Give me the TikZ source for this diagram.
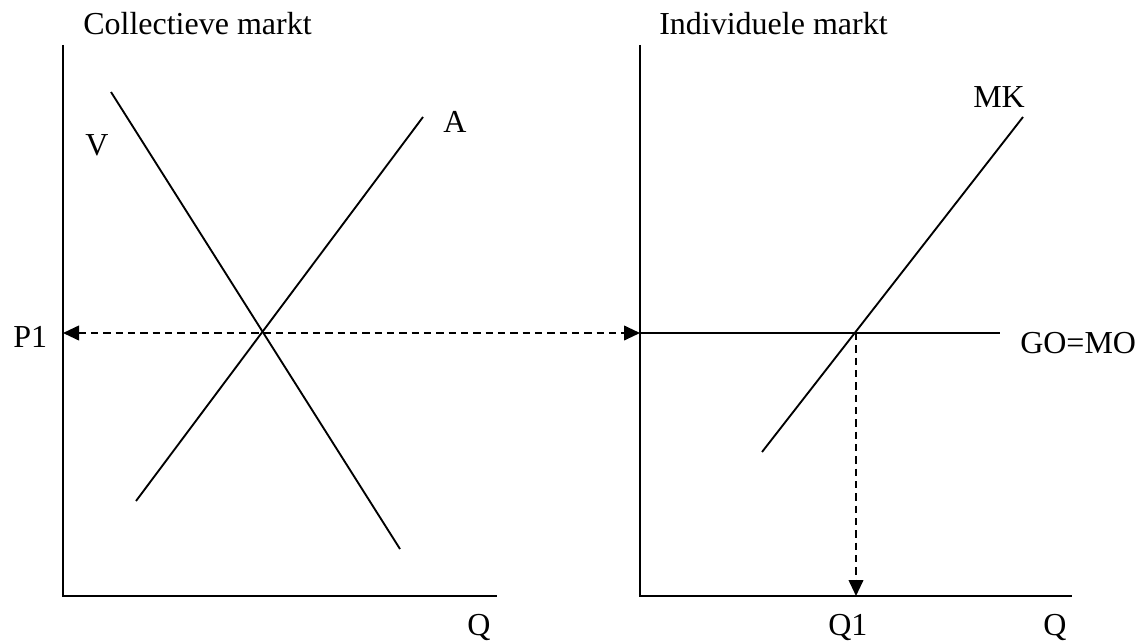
\documentclass[tikz,border=0pt]{standalone}
\usepackage{fontspec}
\setmainfont{Liberation Serif}
\usetikzlibrary{arrows.meta, positioning}

\begin{document}
\begin{tikzpicture}[x=0.75pt, y=-0.75pt, line cap=butt,
    lijn/.style={line width=1.4pt},
    hulp/.style={line width=1.4pt, dash pattern=on 5.5pt off 3.75pt},
    pijl/.style={-{Triangle[length=12pt, width=11pt]}},
    lbl/.style={anchor=base west, inner sep=0pt, font=\fontsize{24}{28}\selectfont}]

    \useasboundingbox (0,0) rectangle (1141,642);

    % =================================================================
    % 1. COORDINATEN
    % =================================================================
    % linker diagram
    \coordinate (OL) at (63,596);
    \coordinate (YL) at (63,45);
    \coordinate (XL) at (497,596);
    \coordinate (V1) at (111,92);
    \coordinate (V2) at (400,549);
    \coordinate (A1) at (136,501);
    \coordinate (A2) at (423,117);
    \coordinate (PL) at (63,333);

    % rechter diagram
    \coordinate (OR) at (640,596);
    \coordinate (YR) at (640,45);
    \coordinate (XR) at (1072,596);
    \coordinate (PR) at (640,333);
    \coordinate (GM) at (1000,333);
    \coordinate (MK1) at (762,452);
    \coordinate (MK2) at (1023,117);
    \coordinate (E) at (856,333);
    \coordinate (Q1) at (856,596);

    % =================================================================
    % 2. ASSEN EN LIJNEN
    % =================================================================
    \draw[lijn] (YL) -- (OL) -- (XL);
    \draw[lijn] (YR) -- (OR) -- (XR);

    % vraag en aanbod
    \draw[lijn] (V1) -- (V2);
    \draw[lijn] (A1) -- (A2);

    % GO=MO en MK
    \draw[lijn] (PR) -- (GM);
    \draw[lijn] (MK1) -- (MK2);

    % stippellijnen met pijlen
    \draw[hulp, {Triangle[length=12pt, width=11pt]}-{Triangle[length=12pt, width=11pt]}] (PL) -- (PR);
    \draw[hulp, pijl] (E) -- (Q1);

    % =================================================================
    % 3. TEKSTEN
    % =================================================================
    \node[lbl] (titelL) at (83,35) {Collectieve markt};
    \node[lbl] (titelR) at (659,35) {Individuele markt};
    \node[lbl] (labV) at (85,155) {V};
    \node[lbl] (labA) at (443,132) {A};
    \node[lbl] (labMK) at (973,108) {MK};
    \node[lbl] (labGM) at (1020,353) {GO=MO};
    \node[lbl] (labP) at (13,347) {P1};
    \node[lbl] (labQL) at (467,635) {Q};
    \node[lbl] (labQ1) at (828,635) {Q1};
    \node[lbl] (labQR) at (1043,635) {Q};

\end{tikzpicture}
\end{document}
